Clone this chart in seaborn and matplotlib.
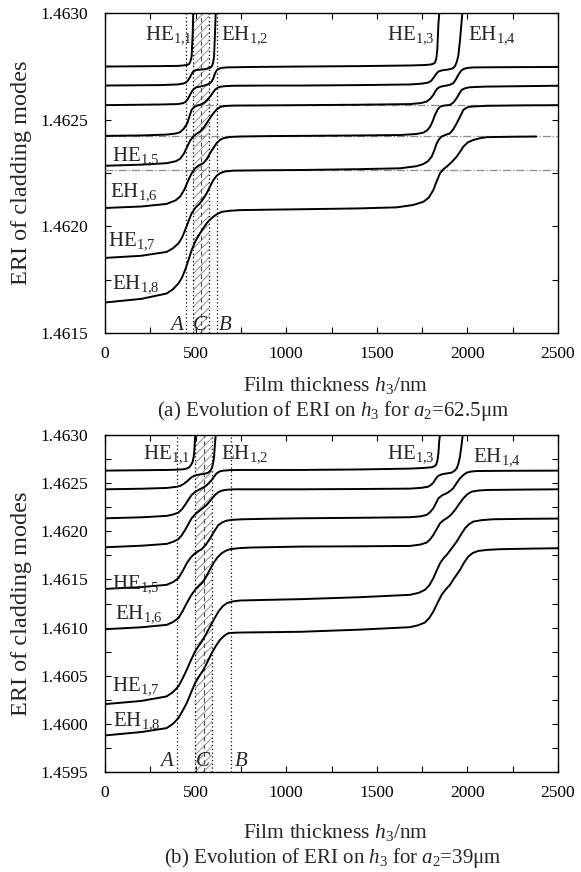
import numpy as np
import pandas as pd
import matplotlib
matplotlib.use("Agg")
import matplotlib.pyplot as plt
from matplotlib.ticker import MultipleLocator, FormatStrFormatter
import seaborn as sns

# ---------------- panel (a): a2 = 62.5 um ----------------
A1_H = [0, 300, 400, 432, 455, 465, 472, 478, 484, 487, 489]
A1_N = [1.462749, 1.462751, 1.462752, 1.462754, 1.462757, 1.462762, 1.462775, 1.462796, 1.462906, 1.463000, 1.463100]
A2_H = [0, 300, 400, 430, 447, 458, 469, 478, 487, 500, 530, 561, 578, 589, 596, 602, 607, 611, 613]
A2_N = [1.462660, 1.462662, 1.462665, 1.462669, 1.462674, 1.462684, 1.462699, 1.462714, 1.462726, 1.462732, 1.462735, 1.462738, 1.462743, 1.462749, 1.462765, 1.462796, 1.462906, 1.463000, 1.463100]
A3_H = [0, 300, 400, 430, 447, 458, 469, 480, 491, 505, 524, 545, 561, 576, 589, 598, 607, 616, 626, 645, 672, 800, 1076, 1400, 1683, 1760, 1794, 1812, 1821, 1828, 1834, 1840, 1845, 1848]
A3_N = [1.462568, 1.462571, 1.462573, 1.462577, 1.462585, 1.462598, 1.462616, 1.462633, 1.462645, 1.462652, 1.462655, 1.462659, 1.462663, 1.462669, 1.462679, 1.462695, 1.462716, 1.462731, 1.462738, 1.462743, 1.462745, 1.462747, 1.462749, 1.462751, 1.462754, 1.462756, 1.462758, 1.462762, 1.462768, 1.462785, 1.462828, 1.462950, 1.463000, 1.463100]
A4_H = [0, 200, 340, 390, 414, 435, 454, 466, 478, 492, 506, 525, 543, 562, 580, 594, 607, 620, 635, 660, 708, 900, 1076, 1400, 1683, 1750, 1784, 1800, 1812, 1826, 1840, 1860, 1886, 1905, 1922, 1932, 1941, 1950, 1959, 1966, 1972, 1975]
A4_N = [1.462424, 1.462426, 1.462430, 1.462435, 1.462441, 1.462458, 1.462483, 1.462515, 1.462546, 1.462559, 1.462565, 1.462570, 1.462577, 1.462590, 1.462608, 1.462625, 1.462640, 1.462649, 1.462654, 1.462657, 1.462659, 1.462660, 1.462660, 1.462662, 1.462665, 1.462669, 1.462674, 1.462682, 1.462695, 1.462712, 1.462726, 1.462731, 1.462734, 1.462737, 1.462742, 1.462752, 1.462770, 1.462800, 1.462870, 1.462940, 1.463000, 1.463100]
A5_H = [0, 200, 340, 390, 414, 435, 454, 470, 487, 505, 524, 542, 561, 580, 598, 616, 635, 660, 708, 900, 1076, 1400, 1683, 1745, 1775, 1795, 1812, 1823, 1834, 1850, 1870, 1886, 1905, 1922, 1936, 1950, 1964, 1978, 1995, 2033, 2200, 2500]
A5_N = [1.462284, 1.462289, 1.462296, 1.462305, 1.462316, 1.462340, 1.462374, 1.462402, 1.462421, 1.462434, 1.462444, 1.462460, 1.462483, 1.462508, 1.462530, 1.462548, 1.462559, 1.462564, 1.462566, 1.462567, 1.462568, 1.462570, 1.462573, 1.462578, 1.462585, 1.462598, 1.462616, 1.462633, 1.462646, 1.462654, 1.462658, 1.462660, 1.462664, 1.462671, 1.462688, 1.462710, 1.462728, 1.462737, 1.462742, 1.462745, 1.462746, 1.462747]
A6_H = [0, 200, 340, 390, 414, 438, 460, 478, 497, 520, 543, 562, 580, 598, 616, 635, 653, 690, 745, 900, 1076, 1400, 1628, 1720, 1757, 1778, 1794, 1808, 1821, 1835, 1849, 1870, 1904, 1922, 1941, 1955, 1969, 1990, 2014, 2100, 2500]
A6_N = [1.462086, 1.462093, 1.462105, 1.462122, 1.462139, 1.462172, 1.462217, 1.462248, 1.462272, 1.462287, 1.462296, 1.462316, 1.462343, 1.462367, 1.462390, 1.462405, 1.462413, 1.462419, 1.462421, 1.462423, 1.462424, 1.462426, 1.462428, 1.462433, 1.462439, 1.462450, 1.462467, 1.462492, 1.462522, 1.462546, 1.462561, 1.462566, 1.462569, 1.462580, 1.462601, 1.462622, 1.462640, 1.462648, 1.462652, 1.462655, 1.462659]
A7_H = [0, 200, 340, 375, 405, 425, 442, 460, 478, 500, 524, 543, 561, 580, 598, 616, 635, 660, 708, 900, 1076, 1400, 1628, 1720, 1757, 1782, 1803, 1817, 1831, 1845, 1858, 1880, 1904, 1922, 1941, 1960, 1978, 1995, 2014, 2107, 2300, 2500]
A7_N = [1.461852, 1.461862, 1.461880, 1.461897, 1.461920, 1.461947, 1.461982, 1.462022, 1.462061, 1.462088, 1.462108, 1.462130, 1.462155, 1.462187, 1.462217, 1.462237, 1.462249, 1.462257, 1.462261, 1.462263, 1.462264, 1.462268, 1.462272, 1.462282, 1.462292, 1.462305, 1.462327, 1.462356, 1.462390, 1.462410, 1.462421, 1.462429, 1.462436, 1.462455, 1.462483, 1.462515, 1.462546, 1.462556, 1.462561, 1.462565, 1.462567, 1.462568]
A8_H = [0, 200, 340, 375, 405, 425, 442, 460, 478, 500, 524, 543, 561, 580, 598, 620, 644, 690, 745, 900, 1076, 1400, 1610, 1700, 1757, 1787, 1812, 1830, 1849, 1868, 1886, 1912, 1941, 1960, 1978, 2003, 2033, 2070, 2107, 2250, 2380]
A8_N = [1.461643, 1.461660, 1.461685, 1.461705, 1.461732, 1.461760, 1.461795, 1.461840, 1.461888, 1.461932, 1.461967, 1.461992, 1.462014, 1.462032, 1.462045, 1.462058, 1.462068, 1.462073, 1.462076, 1.462078, 1.462080, 1.462084, 1.462089, 1.462100, 1.462115, 1.462135, 1.462170, 1.462210, 1.462249, 1.462268, 1.462280, 1.462300, 1.462327, 1.462350, 1.462374, 1.462394, 1.462405, 1.462413, 1.462418, 1.462420, 1.462421]

A_REF_LEVELS = [1.462568, 1.462424, 1.462264]
A_REF_START = [480, 0, 0]
A_MARKS = [447, 487, 531, 576, 620]   # A, C-left, C-mid, C-right, B

# ---------------- panel (b): a2 = 39 um ----------------
B1_H = [0, 340, 400, 432, 452, 465, 475, 484, 490, 493, 498, 500]
B1_N = [1.462630, 1.462637, 1.462640, 1.462644, 1.462652, 1.462665, 1.462690, 1.462723, 1.462780, 1.462844, 1.463000, 1.463100]
B2_H = [0, 200, 340, 390, 414, 433, 451, 465, 478, 492, 506, 525, 543, 557, 570, 580, 589, 596, 602, 607, 611, 613]
B2_N = [1.462436, 1.462442, 1.462450, 1.462461, 1.462471, 1.462490, 1.462516, 1.462540, 1.462561, 1.462576, 1.462585, 1.462591, 1.462595, 1.462601, 1.462609, 1.462625, 1.462654, 1.462700, 1.462775, 1.462914, 1.463000, 1.463100]
B3_H = [0, 200, 340, 375, 405, 424, 442, 460, 478, 497, 515, 533, 552, 570, 589, 603, 616, 633, 653, 690, 745, 900, 1076, 1400, 1683, 1760, 1803, 1816, 1827, 1834, 1840, 1845, 1849, 1851]
B3_N = [1.462135, 1.462145, 1.462160, 1.462174, 1.462194, 1.462228, 1.462274, 1.462327, 1.462377, 1.462408, 1.462429, 1.462446, 1.462464, 1.462494, 1.462533, 1.462570, 1.462602, 1.462622, 1.462630, 1.462635, 1.462637, 1.462637, 1.462637, 1.462642, 1.462651, 1.462658, 1.462665, 1.462674, 1.462689, 1.462730, 1.462810, 1.462948, 1.463000, 1.463100]
B4_H = [0, 200, 340, 375, 405, 424, 442, 460, 478, 497, 515, 538, 561, 584, 607, 625, 644, 670, 708, 900, 1076, 1400, 1683, 1750, 1784, 1798, 1812, 1823, 1834, 1850, 1867, 1890, 1913, 1928, 1941, 1950, 1959, 1969, 1974, 1976]
B4_N = [1.461834, 1.461850, 1.461869, 1.461890, 1.461918, 1.461960, 1.462014, 1.462075, 1.462135, 1.462175, 1.462204, 1.462238, 1.462274, 1.462325, 1.462377, 1.462406, 1.462422, 1.462431, 1.462436, 1.462436, 1.462436, 1.462439, 1.462443, 1.462452, 1.462464, 1.462480, 1.462505, 1.462538, 1.462568, 1.462586, 1.462595, 1.462602, 1.462609, 1.462627, 1.462654, 1.462700, 1.462775, 1.462914, 1.463000, 1.463100]
B5_H = [0, 200, 340, 375, 405, 428, 451, 474, 497, 515, 534, 557, 580, 603, 626, 650, 672, 710, 763, 900, 1076, 1400, 1683, 1740, 1775, 1794, 1812, 1826, 1840, 1862, 1886, 1904, 1922, 1940, 1959, 1978, 1996, 2020, 2051, 2200, 2500]
B5_N = [1.461402, 1.461420, 1.461444, 1.461472, 1.461513, 1.461585, 1.461668, 1.461730, 1.461772, 1.461794, 1.461814, 1.461862, 1.461928, 1.462000, 1.462066, 1.462095, 1.462111, 1.462120, 1.462125, 1.462130, 1.462135, 1.462140, 1.462146, 1.462155, 1.462170, 1.462198, 1.462239, 1.462290, 1.462343, 1.462375, 1.462395, 1.462418, 1.462447, 1.462500, 1.462550, 1.462585, 1.462609, 1.462620, 1.462626, 1.462628, 1.462630]
B6_H = [0, 200, 340, 375, 405, 428, 451, 474, 497, 520, 543, 570, 598, 621, 644, 667, 690, 740, 800, 1076, 1400, 1683, 1740, 1775, 1794, 1812, 1830, 1849, 1868, 1886, 1909, 1932, 1955, 1978, 2000, 2024, 2060, 2107, 2300, 2500]
B6_N = [1.460983, 1.461003, 1.461028, 1.461057, 1.461098, 1.461170, 1.461253, 1.461330, 1.461392, 1.461435, 1.461478, 1.461570, 1.461668, 1.461730, 1.461772, 1.461798, 1.461814, 1.461825, 1.461831, 1.461841, 1.461844, 1.461848, 1.461862, 1.461883, 1.461915, 1.461962, 1.462020, 1.462083, 1.462115, 1.462135, 1.462170, 1.462222, 1.462285, 1.462343, 1.462385, 1.462412, 1.462423, 1.462429, 1.462433, 1.462436]
B7_H = [0, 200, 340, 375, 405, 428, 451, 474, 497, 515, 534, 557, 580, 603, 626, 650, 672, 700, 745, 900, 1076, 1400, 1683, 1730, 1766, 1790, 1812, 1830, 1849, 1868, 1886, 1912, 1941, 1964, 1987, 2010, 2033, 2080, 2143, 2300, 2500]
B7_N = [1.460205, 1.460238, 1.460285, 1.460330, 1.460389, 1.460470, 1.460561, 1.460660, 1.460752, 1.460805, 1.460855, 1.460930, 1.461011, 1.461090, 1.461167, 1.461222, 1.461253, 1.461270, 1.461281, 1.461288, 1.461295, 1.461315, 1.461340, 1.461360, 1.461392, 1.461440, 1.461513, 1.461590, 1.461668, 1.461720, 1.461755, 1.461820, 1.461893, 1.461965, 1.462032, 1.462075, 1.462101, 1.462116, 1.462125, 1.462129, 1.462132]
B8_H = [0, 200, 340, 375, 405, 428, 451, 474, 497, 520, 543, 566, 589, 612, 635, 658, 681, 720, 763, 900, 1076, 1400, 1683, 1730, 1766, 1790, 1812, 1835, 1858, 1880, 1904, 1930, 1959, 1982, 2005, 2030, 2060, 2110, 2180, 2350, 2500]
B8_N = [1.459880, 1.459915, 1.459956, 1.460000, 1.460060, 1.460135, 1.460216, 1.460320, 1.460423, 1.460495, 1.460561, 1.460645, 1.460734, 1.460810, 1.460873, 1.460915, 1.460942, 1.460947, 1.460949, 1.460952, 1.460956, 1.460978, 1.461004, 1.461025, 1.461053, 1.461100, 1.461167, 1.461255, 1.461340, 1.461395, 1.461444, 1.461520, 1.461599, 1.461675, 1.461738, 1.461775, 1.461796, 1.461807, 1.461814, 1.461820, 1.461824]

B_MARKS = [399, 497, 546, 592, 694]

MODE_NAMES = ["HE$_{1{,}1}$", "EH$_{1{,}2}$", "HE$_{1{,}3}$", "EH$_{1{,}4}$",
              "HE$_{1{,}5}$", "EH$_{1{,}6}$", "HE$_{1{,}7}$", "EH$_{1{,}8}$"]
X_TICKS = [0, 500, 1000, 1500, 2000, 2500]
A_YLIM = (1.4615, 1.4630)
B_YLIM = (1.4595, 1.4630)
A_CAPTION = "(a) Evolution of ERI on $h_3$ for $a_2$=62.5μm"
B_CAPTION = "(b) Evolution of ERI on $h_3$ for $a_2$=39μm"

# label placements (data coords: h, ERI baseline)
A_LABEL_POS = [(221, 1.462878), (639, 1.462878), (1558, 1.462878), (2005, 1.462878),
               (37, 1.462308), (28, 1.462139), (18, 1.461912), (37, 1.461708)]
A_ABC_POS = [(397, 1.461513), (524, 1.461513), (662, 1.461513)]
B_LABEL_POS = [(211, 1.462758), (639, 1.462758), (1558, 1.462758), (2033, 1.462730),
               (37, 1.461409), (55, 1.461098), (37, 1.460354), (46, 1.459991)]
B_ABC_POS = [(337, 1.459558), (541, 1.459558), (751, 1.459558)]


def to_frame(hs, ns):
    rows = []
    for i, (h, n) in enumerate(zip(hs, ns)):
        rows.append(pd.DataFrame({"h": h, "eri": n, "mode": i}))
    return pd.concat(rows, ignore_index=True)


df_a = to_frame([A1_H, A2_H, A3_H, A4_H, A5_H, A6_H, A7_H, A8_H],
                [A1_N, A2_N, A3_N, A4_N, A5_N, A6_N, A7_N, A8_N])
df_b = to_frame([B1_H, B2_H, B3_H, B4_H, B5_H, B6_H, B7_H, B8_H],
                [B1_N, B2_N, B3_N, B4_N, B5_N, B6_N, B7_N, B8_N])

sns.set_style("ticks")
plt.rcParams["font.family"] = ["Liberation Serif", "DejaVu Serif"]
plt.rcParams["mathtext.fontset"] = "custom"
plt.rcParams["mathtext.rm"] = "Liberation Serif"
plt.rcParams["mathtext.it"] = "Liberation Serif:italic"
plt.rcParams["hatch.linewidth"] = 0.6

W, H = 581, 872
fig = plt.figure(figsize=(W / 100, H / 100), dpi=100)
ax_a = fig.add_axes([105 / W, 1 - 333 / H, 453 / W, 320 / H])
ax_b = fig.add_axes([105 / W, 1 - 772 / H, 453 / W, 337 / H])


def style_axis(ax, ylim):
    ax.set_xlim(0, 2500)
    ax.set_ylim(*ylim)
    ax.xaxis.set_major_locator(MultipleLocator(500))
    ax.xaxis.set_minor_locator(MultipleLocator(250))
    ax.yaxis.set_major_locator(MultipleLocator(0.0005))
    ax.yaxis.set_minor_locator(MultipleLocator(0.00025))
    ax.yaxis.set_major_formatter(FormatStrFormatter("%.4f"))
    ax.set_xticks(X_TICKS)
    ax.tick_params(which="both", direction="in", top=True, right=True,
                   length=4, width=0.8, colors="black")
    ax.tick_params(axis="x", which="major", labelsize=12.5, pad=9)
    ax.tick_params(axis="y", which="major", labelsize=12.5, pad=12)
    for s in ax.spines.values():
        s.set_linewidth(1.0)
        s.set_color("black")
    ax.set_xlabel("")
    ax.set_ylabel("")


def draw_panel(ax, df, marks, ylim, label_pos, abc_pos):
    A, CL, CM, CR, B = marks
    ax.axvspan(CL, CR, facecolor="none", edgecolor="0.5", hatch="////",
               linewidth=0, zorder=1)
    for x in (A, CL, CR, B):
        ax.axvline(x, color="black", ls=(0, (1, 2)), lw=0.9, zorder=2)
    ax.axvline(CM, color="0.3", ls=(0, (4, 3)), lw=0.8, zorder=2)
    sns.lineplot(data=df, x="h", y="eri", units="mode", estimator=None,
                 color="black", lw=1.4, sort=False, ax=ax, zorder=4,
                 legend=False)
    style_axis(ax, ylim)
    for name, (x, y) in zip(MODE_NAMES, label_pos):
        ax.text(x, y, name, fontsize=15, ha="left", va="baseline", zorder=5)
    for name, (x, y) in zip(["A", "C", "B"], abc_pos):
        ax.text(x, y, name, fontsize=15, style="italic", ha="center",
                va="baseline", zorder=5)


draw_panel(ax_a, df_a, A_MARKS, A_YLIM, A_LABEL_POS, A_ABC_POS)
for lvl, x0 in zip(A_REF_LEVELS, A_REF_START):
    ax_a.plot([x0, 2500], [lvl, lvl], color="0.55", ls="-.", lw=0.9, zorder=3)
draw_panel(ax_b, df_b, B_MARKS, B_YLIM, B_LABEL_POS, B_ABC_POS)

# axis titles & captions
fig.text(22 / W, 1 - 173 / H, "ERI of cladding modes", rotation=90,
         ha="center", va="center", fontsize=17.5)
fig.text(22 / W, 1 - 604 / H, "ERI of cladding modes", rotation=90,
         ha="center", va="center", fontsize=17.5)
fig.text(336 / W, 1 - 386 / H, "Film thickness $h_3$/nm", ha="center",
         va="center", fontsize=15.5)
fig.text(333 / W, 1 - 411 / H, A_CAPTION, ha="center", va="center", fontsize=15)
fig.text(336 / W, 1 - 832 / H, "Film thickness $h_3$/nm", ha="center",
         va="center", fontsize=15.5)
fig.text(333 / W, 1 - 858 / H, B_CAPTION, ha="center", va="center", fontsize=15)

fig.savefig("out.png", dpi=100, facecolor="white")
